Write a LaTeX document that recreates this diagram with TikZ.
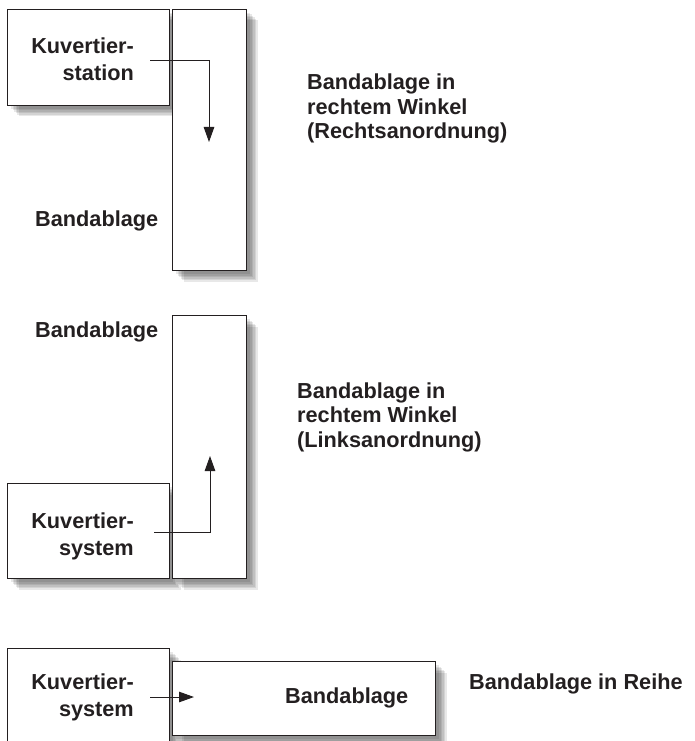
\documentclass[tikz,border=0pt]{standalone}
\usepackage{fontspec}
\setmainfont{Liberation Sans}
\usepackage{xcolor}
\usetikzlibrary{positioning,shadows,arrows.meta}

\definecolor{ink}{HTML}{231F20}

\begin{document}
\begin{tikzpicture}[x=1pt,y=-1pt,
        soft/.style={general shadow={fill=black, opacity=0.09, shadow xshift=#1, shadow yshift=-#1}},
        box/.style={draw=ink, line width=1pt, fill=white, inner sep=0pt, anchor=north west,
            soft=11pt, soft=9.5pt, soft=8pt, soft=6.5pt, soft=5pt, soft=3.5pt},
        txt/.style={inner sep=0pt, text=ink, align=right,
            font=\fontsize{21.7}{27}\selectfont\bfseries},
        note/.style={inner sep=0pt, text=ink, align=left, anchor=base west,
            font=\fontsize{21.7}{24.5}\selectfont\bfseries},
        flow/.style={draw=ink, line width=1pt, -{Triangle[length=15pt,width=10.5pt]}}]
    \useasboundingbox (0,0) rectangle (695,741);
    \clip (0,0) rectangle (695,741);

    % rechts
    \node [box, minimum width=162pt, minimum height=96pt] (station) at (7,9) {};
    \node [box, minimum width=74pt, minimum height=261pt] (bandR) at (172,9) {};
    \node [txt, anchor=base east] (stationtxt) at (134,81) {Kuvertier-\\station};
    \node [txt, anchor=base west] (bandRtxt) at (35,226) {Bandablage};
    \coordinate (fromR) at (150,61);
    \coordinate (toR) at (209,142);
    \draw [flow] (fromR) -| (toR);
    \node [note] (noteR) at (307,139) {Bandablage in\\rechtem Winkel\\(Rechtsanordnung)};

    % links
    \node [box, minimum width=162pt, minimum height=95pt] (systemL) at (7,483) {};
    \node [box, minimum width=74pt, minimum height=263pt] (bandL) at (172,315) {};
    \node [txt, anchor=base west] (bandLtxt) at (35,337) {Bandablage};
    \node [txt, anchor=base east] (systemLtxt) at (134,555) {Kuvertier-\\system};
    \coordinate (fromL) at (154,532);
    \coordinate (toL) at (210,456);
    \draw [flow] (fromL) -| (toL);
    \node [note] (noteL) at (297,447) {Bandablage in\\rechtem Winkel\\(Linksanordnung)};

    % Reihe
    \node [box, minimum width=162pt, minimum height=120pt] (systemS) at (7,648) {};
    \node [box, minimum width=263pt, minimum height=74pt] (bandS) at (172,661) {};
    \node [txt, anchor=base east] (systemStxt) at (134,716) {Kuvertier-\\system};
    \node [txt, anchor=base west] (bandStxt) at (285,703) {Bandablage};
    \coordinate (fromS) at (150,697);
    \coordinate (toS) at (194,697);
    \draw [flow] (fromS) -- (toS);
    \node [note] (noteS) at (469,689) {Bandablage in Reihe};
\end{tikzpicture}
\end{document}
